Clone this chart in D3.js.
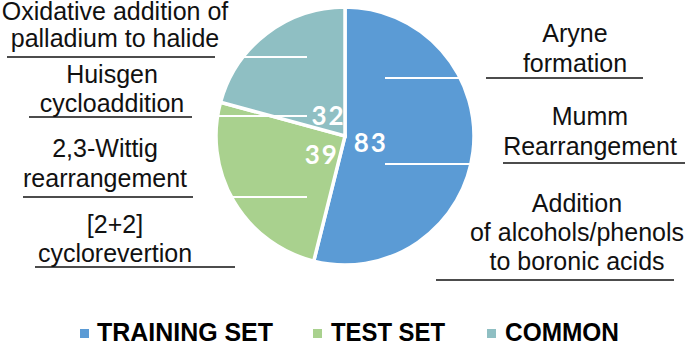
<!DOCTYPE html>
<html><head><meta charset="utf-8">
<script src="https://cdn.jsdelivr.net/npm/d3@7"></script>
<style>
html,body{margin:0;padding:0;background:#fff;}
svg{display:block;}
</style></head>
<body>
<svg id="chart" width="685" height="343"></svg>
<script>
// ---- data ----
const categories = ["TRAINING SET", "TEST SET", "COMMON"];
const values = [83, 39, 32];
const colors = ["#5b9bd5", "#a9d18e", "#8fbfc3"];
const leftLabels = [
  ["Oxidative addition of", "palladium to halide"],
  ["Huisgen", "cycloaddition"],
  ["2,3-Wittig", "rearrangement"],
  ["[2+2]", "cyclorevertion"]
];
const rightLabels = [
  ["Aryne", "formation"],
  ["Mumm", "Rearrangement"],
  ["Addition", "of alcohols/phenols", "to boronic acids"]
];

// ---- layout ----
const W = 685, H = 343;
const cx = 345, cy = 136, R = 129;
const svg = d3.select("#chart");

const pie = d3.pie().sort(null).value(d => d)(values);
const arc = d3.arc().innerRadius(0).outerRadius(R);
const labelArc = d3.arc().innerRadius(0).outerRadius(54);

const g = svg.append("g").attr("transform", `translate(${cx},${cy})`);
g.selectAll("path.slice").data(pie).join("path")
  .attr("class", "slice")
  .attr("d", arc)
  .attr("fill", (d, i) => colors[i])
  .attr("stroke", "#fff")
  .attr("stroke-width", 3.5)
  .attr("stroke-linejoin", "miter");

// label layout (annotation positions)
const leftLayout = [
  {x: 115, y: [20, 47], ul: [7, 215, 57], wl: [243, 307, 57]},
  {x: 112, y: [83, 112], ul: [29, 192, 117], wl: [218, 307, 116]},
  {x: 105, y: [157, 187], ul: [23, 193, 197], wl: [232, 307, 197]},
  {x: 115, y: [233, 262], ul: [35, 235, 267], wl: null}
];
const rightLayout = [
  {x: 575, y: [42, 72], ul: [486, 643, 78], wl: [385, 460, 78]},
  {x: 590, y: [125, 155], ul: [503, 685, 163], wl: [385, 472, 164]},
  {x: 577, y: [212, 241, 270], ul: [436, 674, 280], wl: null}
];

function drawLabels(labels, layout) {
  labels.forEach((lines, i) => {
    const L = layout[i];
    lines.forEach((t, j) => {
      svg.append("text")
        .attr("x", L.x).attr("y", L.y[j])
        .attr("text-anchor", "middle")
        .attr("font-family", "'Liberation Sans', Arial, Helvetica, sans-serif")
        .attr("font-size", 25)
        .attr("fill", "#111")
        .text(t);
    });
    svg.append("line")
      .attr("x1", L.ul[0]).attr("x2", L.ul[1])
      .attr("y1", L.ul[2]).attr("y2", L.ul[2])
      .attr("stroke", "#111").attr("stroke-width", 1.6);
    if (L.wl) {
      svg.append("line")
        .attr("x1", L.wl[0]).attr("x2", L.wl[1])
        .attr("y1", L.wl[2]).attr("y2", L.wl[2])
        .attr("stroke", "#fff").attr("stroke-width", 2);
    }
  });
}
drawLabels(leftLabels, leftLayout);
drawLabels(rightLabels, rightLayout);

// values in slices
const valOffsets = [[-1, 3], [0, 4], [0, 0]];
g.selectAll("text.val").data(pie).join("text")
  .attr("class", "val")
  .attr("x", (d, i) => labelArc.centroid(d)[0] + valOffsets[i][0])
  .attr("y", (d, i) => labelArc.centroid(d)[1] + valOffsets[i][1])
  .attr("text-anchor", "middle")
  .attr("dominant-baseline", "central")
  .attr("font-family", "Lato, 'Open Sans', sans-serif")
  .attr("font-weight", "bold")
  .attr("font-size", 26)
  .attr("letter-spacing", 2)
  .attr("fill", "#fff")
  .text(d => d.data);

// legend
const legendX = [80, 313, 487];
const legendTX = [97, 331, 505];
const legendW = [176, 114, 114];
const lg = svg.append("g");
categories.forEach((c, i) => {
  lg.append("rect")
    .attr("x", legendX[i]).attr("y", 329)
    .attr("width", 9).attr("height", 9)
    .attr("fill", colors[i]);
  lg.append("text")
    .attr("x", legendTX[i]).attr("y", 341)
    .attr("font-family", "'Liberation Sans', Arial, Helvetica, sans-serif")
    .attr("font-weight", "bold")
    .attr("font-size", 26)
    .attr("textLength", legendW[i])
    .attr("lengthAdjust", "spacingAndGlyphs")
    .attr("fill", "#000")
    .text(c);
});
</script>
</body></html>
